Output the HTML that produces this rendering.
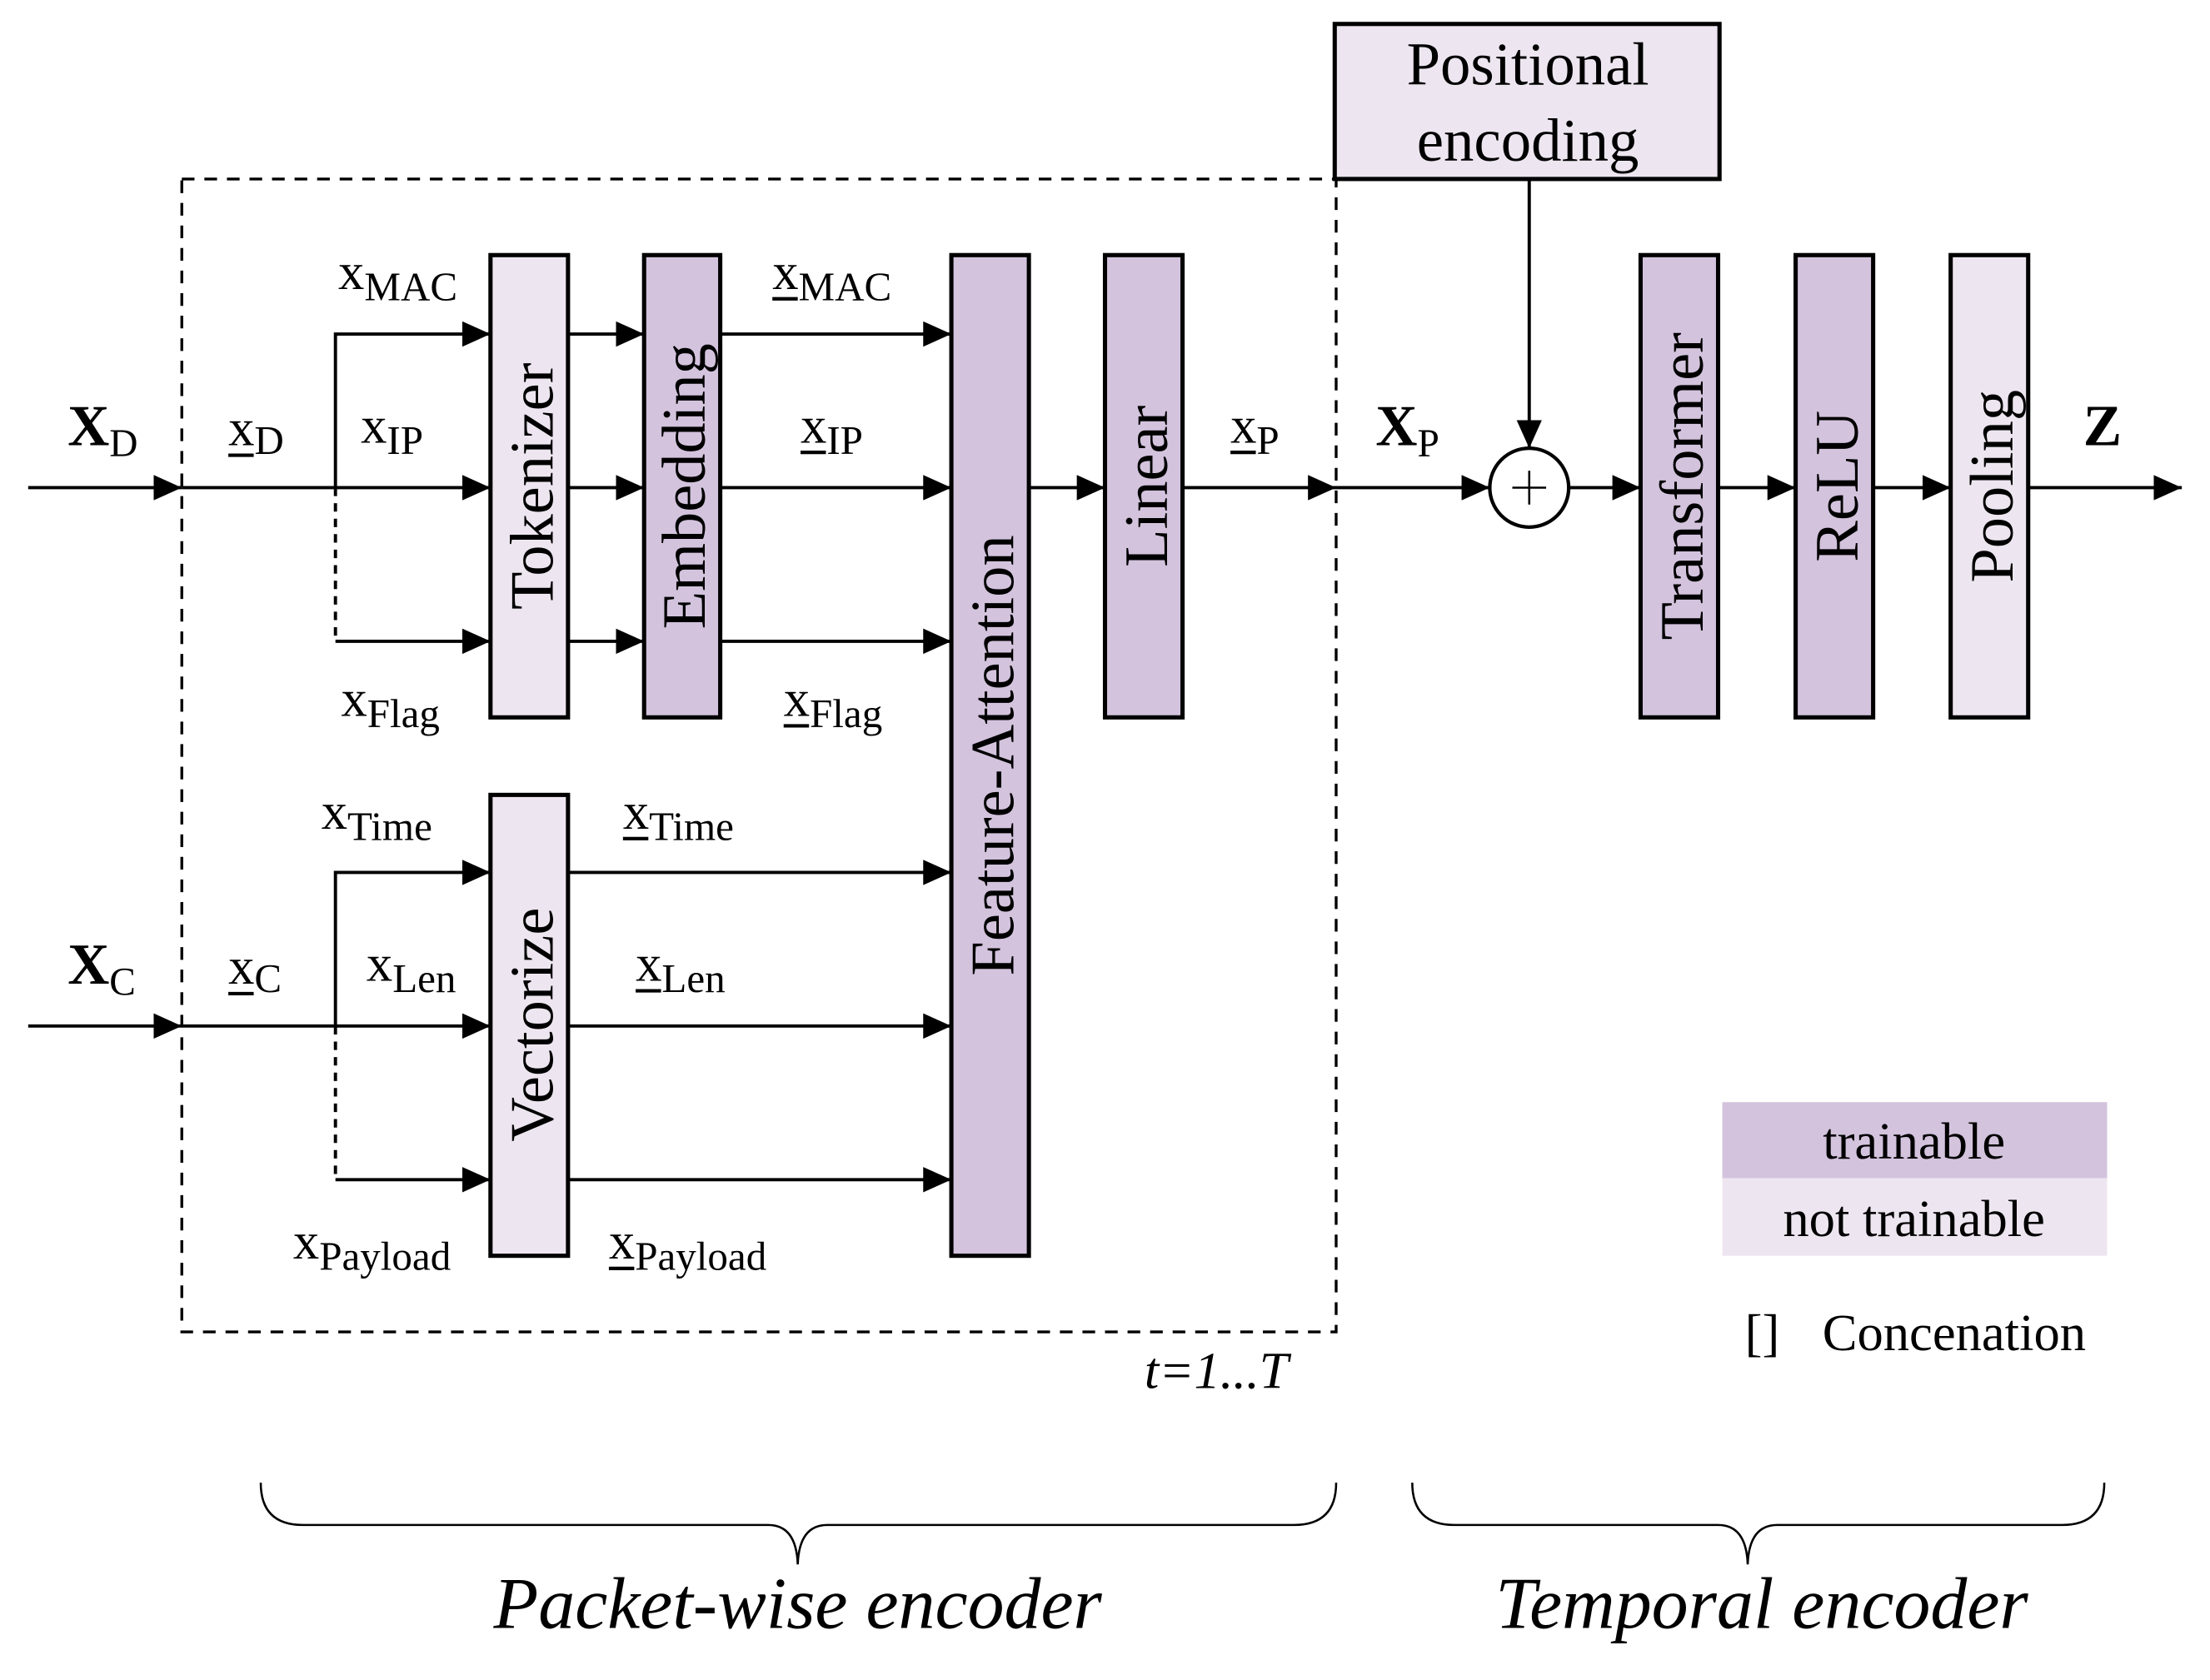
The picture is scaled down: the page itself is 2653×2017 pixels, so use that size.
<!DOCTYPE html>
<html><head><meta charset="utf-8"><style>
html,body{margin:0;padding:0;background:#fff;}
svg{display:block;}
text{font-family:"Liberation Serif",serif;fill:#000;}
</style></head><body>
<svg width="2653" height="2017" viewBox="0 0 1568 1192" preserveAspectRatio="none" xmlns="http://www.w3.org/2000/svg">
<defs>
<marker id="a" markerWidth="22" markerHeight="18" refX="20" refY="9" orient="auto" markerUnits="userSpaceOnUse">
<path d="M0,0 L20,9 L0,18 Z" fill="#000"/></marker>
</defs>
<rect width="1568" height="1192" fill="#fff"/>
<rect x="129" y="127" width="819" height="818" fill="none" stroke="#000" stroke-width="2" stroke-dasharray="9,7"/>
<rect x="947" y="17" width="273" height="110" fill="#ede6f0" stroke="#000" stroke-width="3"/>
<text x="1084" y="60" font-size="43" text-anchor="middle">Positional</text>
<text x="1084" y="114" font-size="43" text-anchor="middle">encoding</text>
<g stroke="#000" stroke-width="3">
<rect x="348" y="181" width="55" height="328" fill="#ede6f0"/>
<rect x="457" y="181" width="54" height="328" fill="#d3c3dd"/>
<rect x="675" y="181" width="55" height="710" fill="#d3c3dd"/>
<rect x="784" y="181" width="55" height="328" fill="#d3c3dd"/>
<rect x="348" y="564" width="55" height="327" fill="#ede6f0"/>
<rect x="1164" y="181" width="55" height="328" fill="#d3c3dd"/>
<rect x="1274" y="181" width="55" height="328" fill="#d3c3dd"/>
<rect x="1384" y="181" width="55" height="328" fill="#ede6f0"/>
</g>
<g font-size="44" text-anchor="middle">
<text transform="translate(392,345) rotate(-90)">Tokenizer</text>
<text transform="translate(500,345) rotate(-90)">Embedding</text>
<text transform="translate(719,536) rotate(-90)">Feature-Attention</text>
<text transform="translate(828,345) rotate(-90)">Linear</text>
<text transform="translate(392,727) rotate(-90)">Vectorize</text>
<text transform="translate(1208,345) rotate(-90)">Transformer</text>
<text transform="translate(1318,345) rotate(-90)">ReLU</text>
<text transform="translate(1428,345) rotate(-90)">Pooling</text>
</g>
<g stroke="#000" stroke-width="2.3" fill="none">
<line x1="20" y1="346" x2="129" y2="346" marker-end="url(#a)"/>
<line x1="129" y1="346" x2="348" y2="346" marker-end="url(#a)"/>
<polyline points="238,346 238,237 348,237" marker-end="url(#a)"/>
<line x1="238" y1="346" x2="238" y2="455" stroke-dasharray="6,5"/>
<line x1="238" y1="455" x2="348" y2="455" marker-end="url(#a)"/>
<line x1="403" y1="237" x2="457" y2="237" marker-end="url(#a)"/>
<line x1="403" y1="346" x2="457" y2="346" marker-end="url(#a)"/>
<line x1="403" y1="455" x2="457" y2="455" marker-end="url(#a)"/>
<line x1="511" y1="237" x2="675" y2="237" marker-end="url(#a)"/>
<line x1="511" y1="346" x2="675" y2="346" marker-end="url(#a)"/>
<line x1="511" y1="455" x2="675" y2="455" marker-end="url(#a)"/>
<line x1="730" y1="346" x2="784" y2="346" marker-end="url(#a)"/>
<line x1="839" y1="346" x2="948" y2="346" marker-end="url(#a)"/>
<line x1="948" y1="346" x2="1057" y2="346" marker-end="url(#a)"/>
<line x1="1113" y1="346" x2="1164" y2="346" marker-end="url(#a)"/>
<line x1="1219" y1="346" x2="1274" y2="346" marker-end="url(#a)"/>
<line x1="1329" y1="346" x2="1384" y2="346" marker-end="url(#a)"/>
<line x1="1439" y1="346" x2="1548" y2="346" marker-end="url(#a)"/>
<line x1="1085" y1="127" x2="1085" y2="318" marker-end="url(#a)"/>
<line x1="20" y1="728" x2="129" y2="728" marker-end="url(#a)"/>
<line x1="129" y1="728" x2="348" y2="728" marker-end="url(#a)"/>
<polyline points="238,728 238,619 348,619" marker-end="url(#a)"/>
<line x1="238" y1="728" x2="238" y2="837" stroke-dasharray="6,5"/>
<line x1="238" y1="837" x2="348" y2="837" marker-end="url(#a)"/>
<line x1="403" y1="619" x2="675" y2="619" marker-end="url(#a)"/>
<line x1="403" y1="728" x2="675" y2="728" marker-end="url(#a)"/>
<line x1="403" y1="837" x2="675" y2="837" marker-end="url(#a)"/>
<circle cx="1085" cy="346" r="28" fill="#fff" stroke-width="2.5"/>
<line x1="1073" y1="346" x2="1097" y2="346" stroke-width="1.5"/>
<line x1="1085" y1="334" x2="1085" y2="358" stroke-width="1.5"/>
</g>
<g font-size="37">
<text x="48" y="316" font-weight="bold" font-size="41">X<tspan font-size="28" font-weight="normal" dy="8">D</tspan></text>
<text x="48" y="698" font-weight="bold" font-size="41">X<tspan font-size="28" font-weight="normal" dy="8">C</tspan></text>
<text x="976" y="316" font-weight="bold" font-size="41">X<tspan font-size="28" font-weight="normal" dy="8">P</tspan></text>
<text x="1478" y="316" font-weight="bold" font-size="41">Z</text>
<text x="162" y="316">x<tspan font-size="29" dy="6">D</tspan></text>
<text x="162" y="698">x<tspan font-size="29" dy="6">C</tspan></text>
<text x="240" y="205">x<tspan font-size="29" dy="8">MAC</tspan></text>
<text x="256" y="314">x<tspan font-size="29" dy="8">IP</tspan></text>
<text x="242" y="508">x<tspan font-size="29" dy="8">Flag</tspan></text>
<text x="228" y="588">x<tspan font-size="29" dy="8">Time</tspan></text>
<text x="260" y="696">x<tspan font-size="29" dy="8">Len</tspan></text>
<text x="208" y="893">x<tspan font-size="29" dy="8">Payload</tspan></text>
<text x="548" y="205">x<tspan font-size="29" dy="8">MAC</tspan></text>
<text x="568" y="314">x<tspan font-size="29" dy="8">IP</tspan></text>
<text x="556" y="508">x<tspan font-size="29" dy="8">Flag</tspan></text>
<text x="442" y="588">x<tspan font-size="29" dy="8">Time</tspan></text>
<text x="451" y="696">x<tspan font-size="29" dy="8">Len</tspan></text>
<text x="432" y="893">x<tspan font-size="29" dy="8">Payload</tspan></text>
<text x="873" y="314">x<tspan font-size="29" dy="8">P</tspan></text>
</g>
<g stroke="#000" stroke-width="2.5">
<line x1="162" y1="323" x2="180" y2="323"/>
<line x1="162" y1="705" x2="180" y2="705"/>
<line x1="548" y1="212" x2="566" y2="212"/>
<line x1="568" y1="321" x2="586" y2="321"/>
<line x1="556" y1="515" x2="574" y2="515"/>
<line x1="442" y1="595" x2="460" y2="595"/>
<line x1="451" y1="703" x2="469" y2="703"/>
<line x1="432" y1="900" x2="450" y2="900"/>
<line x1="873" y1="321" x2="891" y2="321"/>
</g>
<text x="812" y="985" font-size="37" font-style="italic">t=1...T</text>
<rect x="1222" y="782" width="273" height="54" fill="#d3c3dd"/>
<rect x="1222" y="836" width="273" height="55" fill="#ede6f0"/>
<text x="1358" y="822" font-size="37" text-anchor="middle">trainable</text>
<text x="1358" y="877" font-size="37" text-anchor="middle">not trainable</text>
<text x="1238" y="958" font-size="37">[]</text>
<text x="1293" y="958" font-size="37">Concenation</text>
<g stroke="#000" stroke-width="1.5" fill="none">
<path d="M185,1052 Q185,1082 215,1082 L545,1082 Q565,1082 566,1110 Q567,1082 587,1082 L918,1082 Q948,1082 948,1052"/>
<path d="M1002,1052 Q1002,1082 1032,1082 L1219,1082 Q1239,1082 1240,1110 Q1241,1082 1261,1082 L1463,1082 Q1493,1082 1493,1052"/>
</g>
<text x="566" y="1155" font-size="52" font-style="italic" text-anchor="middle">Packet-wise encoder</text>
<text x="1250" y="1155" font-size="52" font-style="italic" text-anchor="middle">Temporal encoder</text>
</svg>
</body></html>
